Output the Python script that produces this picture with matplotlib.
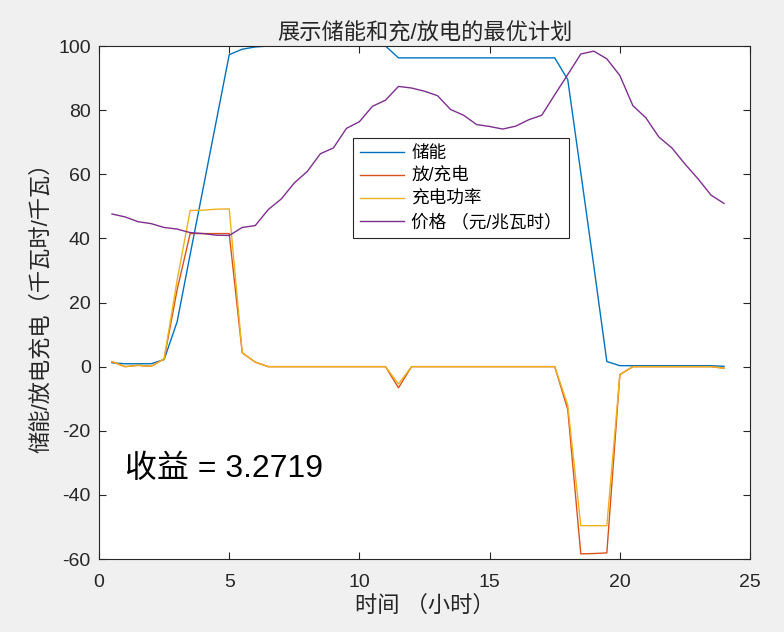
import numpy as np
import matplotlib
matplotlib.use('Agg')
import matplotlib.pyplot as plt

plt.rcParams['font.family'] = ['Liberation Sans', 'Noto Sans CJK SC']
plt.rcParams['axes.unicode_minus'] = False

# time in hours, every half hour
hours = np.arange(1, 49) * 0.5

storage = [1.2, 0.9, 0.9, 0.9, 2.2, 14.0, 35.0, 55.7, 76.5, 97.3,
           99.0, 99.7, 100, 100, 100, 100, 100, 100, 100, 100,
           100, 100, 96.3, 96.3, 96.3, 96.3, 96.3, 96.3, 96.3, 96.3,
           96.3, 96.3, 96.3, 96.3, 96.3, 89.5, 60.5, 31.4, 1.6, 0.3,
           0.3, 0.3, 0.3, 0.3, 0.3, 0.3, 0.3, 0.1]

charge = [1.5, 0.0, 0.4, 0.1, 2.4, 24.0, 41.5, 41.5, 41.5, 41.5,
          4.3, 1.4, 0, 0, 0, 0, 0, 0, 0, 0,
          0, 0, -6.6, 0, 0, 0, 0, 0, 0, 0,
          0, 0, 0, 0, 0, -13.4, -58.4, -58.3, -58.1, -2.5,
          0, 0, 0, 0, 0, 0, 0, -0.5]

power = [1.6, 0.0, 0.4, 0.1, 2.4, 27.0, 48.7, 48.8, 49.1, 49.2,
         4.3, 1.4, 0, 0, 0, 0, 0, 0, 0, 0,
         0, 0, -5.4, 0, 0, 0, 0, 0, 0, 0,
         0, 0, 0, 0, 0, -12.0, -49.6, -49.6, -49.6, -2.5,
         0, 0, 0, 0, 0, 0, 0, -0.5]

price = [47.6, 46.7, 45.2, 44.6, 43.4, 42.9, 41.8, 41.5, 41.0, 40.9,
         43.4, 44.0, 49.0, 52.3, 57.3, 60.9, 66.4, 68.2, 74.3, 76.4,
         81.2, 83.1, 87.4, 86.9, 85.9, 84.5, 80.2, 78.4, 75.5, 74.9,
         74.1, 75.0, 77.0, 78.4, 84.8, 91.1, 97.5, 98.4, 96.0, 90.8,
         81.4, 77.6, 71.6, 68.2, 63.2, 58.6, 53.5, 50.9]

labels = ['储能', '放/充电', '充电功率', '价格 （元/兆瓦时）']
colors = ['#0072BD', '#D95319', '#EDB120', '#7E2F8E']
profit = 3.2719

fig = plt.figure(figsize=(7.84, 6.32), dpi=100, facecolor='#f0f0f0')
ax = fig.add_axes([0.1263, 0.1155, 0.8304, 0.8117])

for y, c, lab in zip([storage, charge, power, price], colors, labels):
    ax.plot(hours, y, color=c, lw=1, label=lab)

ax.set_xlim(0, 25)
ax.set_ylim(-60, 100)
ax.set_xticks(range(0, 26, 5))
ax.set_yticks(range(-60, 101, 20))
ax.tick_params(direction='in', top=True, right=True, labelsize=14,
               colors='#262626', length=5)
ax.tick_params(axis='x', pad=11)
ax.tick_params(axis='y', pad=6)
for s in ax.spines.values():
    s.set_color('#262626')
    s.set_linewidth(0.8)

ax.set_title('展示储能和充/放电的最优计划', fontsize=16, color='#262626', pad=5)
ax.set_xlabel('时间 （小时）', fontsize=16, color='#262626', labelpad=3)
ax.set_ylabel('储能/放电充电（千瓦时/千瓦）', fontsize=16, color='#262626', labelpad=4.5)

ax.text(1.0, -32, '收益 = %.4f' % profit, fontsize=23, va='center', color='black')

leg = ax.legend(loc='upper left', bbox_to_anchor=(0.39, 0.821), fontsize=12.7,
                fancybox=False, framealpha=1, edgecolor='#262626',
                handlelength=2.5, handletextpad=0.4, borderpad=0.4,
                borderaxespad=0, labelspacing=0.34)
leg.get_frame().set_linewidth(0.8)

fig.savefig('out.png', dpi=100, facecolor=fig.get_facecolor())
